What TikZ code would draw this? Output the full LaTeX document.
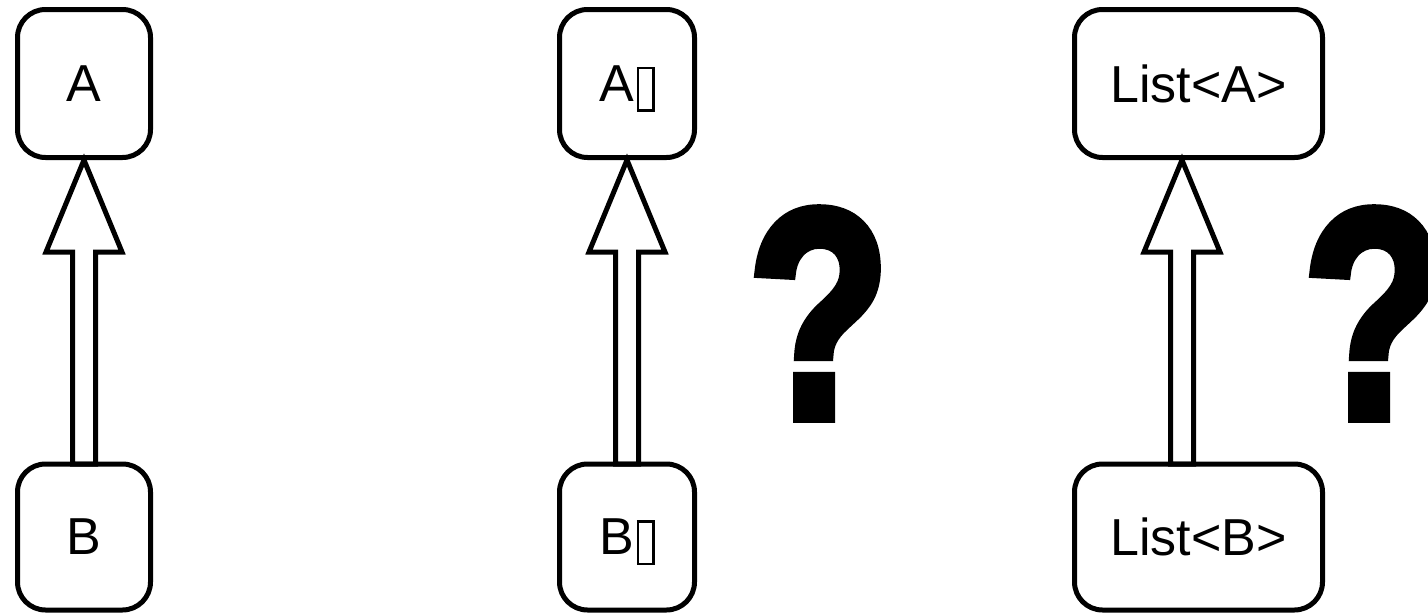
\documentclass[tikz,border=0pt]{standalone}
\usepackage{fontspec}
\setmainfont{Liberation Sans}
\newfontfamily\qfont{Liberation Sans}[BoldFeatures={FakeBold=4}]
\usetikzlibrary{calc}
\newcommand\tofu{\kern3pt\raisebox{-8pt}{\setlength\fboxrule{2.5pt}\setlength\fboxsep{0pt}\fbox{\rule{0pt}{40pt}\hspace{13pt}}}}
\newcommand\hollowarrow[3]{%
  \draw[hollow] let \p1=(#1.north), \p2=(#2.south) in
    (\x2+#3,\y2) -- (\x2+#3+38pt,\y2-92pt) -- (\x2+#3+11.5pt,\y2-92pt)
    -- (\x2+#3+11.5pt,\y1-2.5pt) -- (\x2+#3-11.5pt,\y1-2.5pt)
    -- (\x2+#3-11.5pt,\y2-92pt) -- (\x2+#3-38pt,\y2-92pt) -- cycle;}
\begin{document}
\begin{tikzpicture}[x=1pt,y=-1pt,
  box/.style={draw,line width=5pt,rounded corners=28pt,minimum width=#1,
    inner sep=0pt,font=\fontsize{52}{52}\selectfont,text depth=0pt},
  topbox/.style={box=#1,minimum height=148pt},
  botbox/.style={box=#1,minimum height=146pt},
  hollow/.style={draw,line width=5pt,line join=miter},
  qmark/.style={inner sep=0pt,font=\qfont\bfseries\fontsize{296}{296}\selectfont}]
\useasboundingbox (0,0) rectangle (1428,613);
\clip (0,0) rectangle (1428,613);
\node[topbox=133pt] (A) at (84,83.5) {A};
\node[botbox=133pt] (B) at (84,537) {B};
\node[topbox=135pt] (Aa) at (627,83.5) {A\tofu};
\node[botbox=135pt] (Ba) at (627,537) {B\tofu};
\node[topbox=248pt] (LA) at (1198.5,83.5) {List<A>};
\node[botbox=248pt] (LB) at (1198.5,537) {List<B>};
\hollowarrow{B}{A}{0pt}
\hollowarrow{Ba}{Aa}{0pt}
\hollowarrow{LB}{LA}{-16.5pt}
\node[qmark] (q1) at (819,313.5) {\scalebox{0.78}[1]{?}};
\node[qmark] (q2) at (1374,313.5) {\scalebox{0.78}[1]{?}};
\end{tikzpicture}
\end{document}
